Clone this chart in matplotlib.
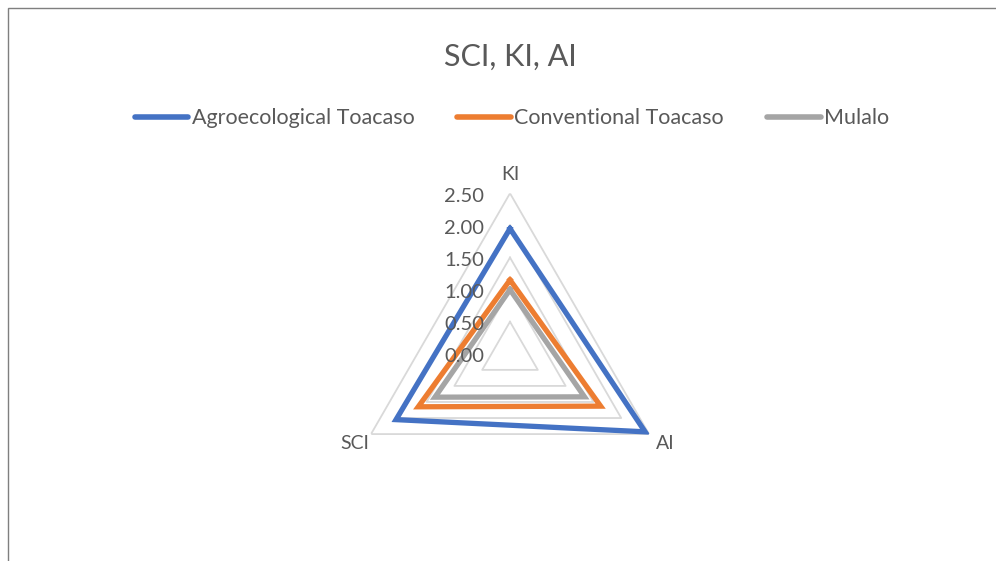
import numpy as np
import matplotlib.pyplot as plt
from matplotlib.lines import Line2D
from matplotlib.patches import Rectangle
from matplotlib.transforms import offset_copy

plt.rcParams['font.family'] = ['Lato', 'DejaVu Sans']

# data
categories = ["KI", "AI", "SCI"]
series_names = ["Agroecological Toacaso", "Conventional Toacaso", "Mulalo"]
agro = [1.95, 2.43, 2.05]
conv = [1.15, 1.63, 1.65]
mulalo = [1.00, 1.34, 1.35]
ring_levels = [0.5, 1.0, 1.5, 2.0, 2.5]
tick_levels = [0.0, 0.5, 1.0, 1.5, 2.0, 2.5]

colors = ["#4472C4", "#ED7D31", "#A5A5A5"]
text_col = "#595959"

fig = plt.figure(figsize=(9.96, 5.61), dpi=100)
fig.patches.append(Rectangle((8/996, -0.1), 1.1, (561-8)/561 + 0.1, transform=fig.transFigure,
                             fill=False, edgecolor="#7f7f7f", linewidth=1.0))

ax = fig.add_axes([0.3509, 0.0832, 0.3223, 0.5722], projection="polar")
ax.set_theta_zero_location("N")
ax.set_theta_direction(-1)
ax.set_ylim(0, 2.5)
ax.grid(False)
ax.spines["polar"].set_visible(False)
ax.set_xticks([])
ax.set_yticks([])
ax.patch.set_alpha(0)

theta = np.linspace(0, 2*np.pi, len(categories), endpoint=False)
theta_c = np.append(theta, theta[0])

# triangular gridlines
for lv in ring_levels:
    ax.plot(theta_c, [lv]*(len(categories)+1), color="#D9D9D9", lw=1.3, zorder=1)

for vals, c in zip([agro, conv, mulalo], colors):
    ax.plot(theta_c, vals + vals[:1], color=c, lw=3.8, solid_joinstyle="miter", zorder=3)
ax.lines[-1].set_zorder(2.5)

for lab, t in zip(categories, theta):
    ax.text(t, 2.8, lab, ha="center", va="center", fontsize=14, color=text_col)

tick_tr = offset_copy(ax.transData, fig=fig, x=-26, y=-3, units="dots")
for lv in tick_levels:
    ax.text(0, lv, "%.2f" % lv, ha="right", va="center", fontsize=14.5, color=text_col,
            transform=tick_tr, zorder=4)

fig.text(0.512, 0.898, "SCI, KI, AI", ha="center", va="center", fontsize=22, color=text_col)

handles = [Line2D([], [], color=c, lw=4, solid_capstyle="round") for c in colors]
leg = fig.legend(handles, series_names, loc="center", bbox_to_anchor=(0.514, 0.789), ncol=3,
                 frameon=False, fontsize=15.5, handlelength=2.5, handletextpad=0.15,
                 columnspacing=2.0, labelcolor=text_col)

fig.savefig("out.png", dpi=100)
